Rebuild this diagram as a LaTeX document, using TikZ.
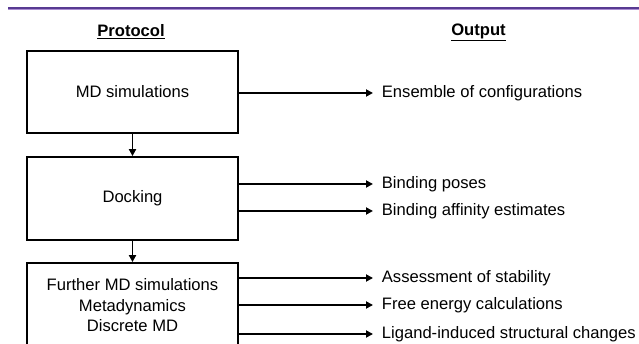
\documentclass[tikz,border=0pt]{standalone}
\usepackage{fontspec}
\setmainfont{Liberation Sans}
\usetikzlibrary{arrows.meta, positioning}
\definecolor{rulepurple}{RGB}{88,58,146}
\definecolor{rulelight}{RGB}{170,140,210}

\begin{document}
\begin{tikzpicture}[
  x=1pt, y=-1pt,
  font=\fontsize{16.6}{20.5}\selectfont,
  stage/.style={rectangle, draw, line width=1.8pt, minimum width=211pt, align=center, inner sep=0pt},
  outlbl/.style={anchor=west, inner sep=0pt, inner xsep=8pt},
  head/.style={font=\fontsize{16.6}{20}\selectfont\bfseries},
  >={Triangle[length=7pt, width=7pt]},
  line width=1.8pt
]
  \clip (0,0) rectangle (639,344);

  % Rule along the top
  \draw[rulelight, line width=1.2pt] (8,9.6) -- (639,9.6);
  \draw[rulepurple, line width=2.2pt] (8,8) -- (639,8);

  % Column headings
  \node[head] (prothead) at (131,32) {\underline{Protocol}};
  \node[head] (outhead) at (478.5,32) {\underline{Output}};

  % Protocol stages
  \node[stage, minimum height=82pt] (md) at (132.5,92) {MD simulations};
  \node[stage, minimum height=83pt] (dock) at (132.5,198.5) {Docking};
  \node[stage, minimum height=85pt] (further) at (132.5,305.5)
    {Further MD simulations\\Metadynamics\\Discrete MD};

  \draw[->] (md) -- (dock);
  \draw[->] (dock) -- (further);

  % Outputs of each stage
  \node[outlbl] (ens) at (373,93) {Ensemble of configurations};
  \node[outlbl] (poses) at (373,184) {Binding poses};
  \node[outlbl] (affin) at (373,211) {Binding affinity estimates};
  \node[outlbl] (stab) at (373,278) {Assessment of stability};
  \node[outlbl] (free) at (373,305) {Free energy calculations};
  \node[outlbl] (ligand) at (373,334) {Ligand-induced structural changes};

  \draw[->] (md.east |- ens.west) -- (ens.west);
  \draw[->] (dock.east |- poses.west) -- (poses.west);
  \draw[->] (dock.east |- affin.west) -- (affin.west);
  \draw[->] (further.east |- stab.west) -- (stab.west);
  \draw[->] (further.east |- free.west) -- (free.west);
  \draw[->] (further.east |- ligand.west) -- (ligand.west);
\end{tikzpicture}
\end{document}
